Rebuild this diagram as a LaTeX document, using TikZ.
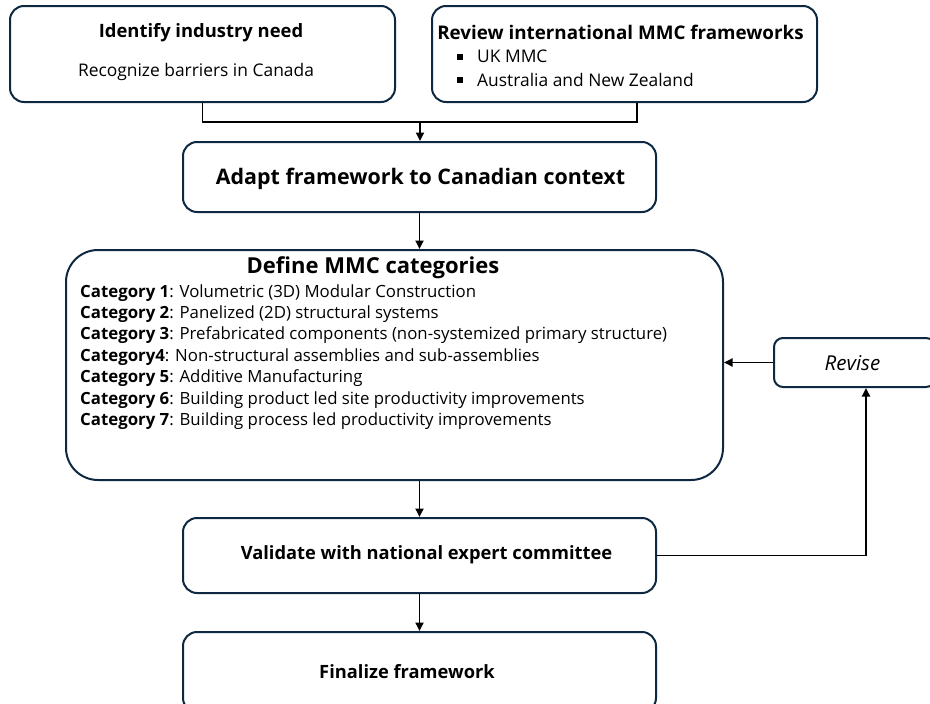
\documentclass[tikz,border=0pt]{standalone}
\usepackage{fontspec}
\setmainfont{Open Sans}
\usetikzlibrary{arrows.meta}
\definecolor{navy}{HTML}{0E2841}
\begin{document}
\begin{tikzpicture}[x=1pt,y=-1pt,
  box/.style={draw=navy,line width=2pt,rounded corners=14pt,fill=white,inner sep=0pt},
  flow/.style={line width=1.8pt,-{Triangle[length=8.5pt,width=8pt]}},
  link/.style={line width=1.8pt},
  bullet/.style={fill=black,inner sep=0pt,minimum size=5.5pt},
  cat/.style={anchor=west,inner sep=0pt,font=\fontsize{16.8}{20}\selectfont},
  head/.style={inner sep=0pt,font=\fontsize{18.4}{22}\selectfont\bfseries},
  body/.style={inner sep=0pt,font=\fontsize{17.4}{21}\selectfont}]
\useasboundingbox (0,0) rectangle (930,704);

% top row
\node[box,minimum width=385pt,minimum height=96pt] (need) at (202.5,54) {};
\node[head] (needT) at (201,33) {Identify industry need};
\node[body] (needB) at (196,72) {Recognize barriers in Canada};

\node[box,minimum width=385pt,minimum height=96pt] (rev) at (624.5,54) {};
\node[head,font=\fontsize{18.8}{22}\selectfont\bfseries] (revT) at (620.5,32) {Review international MMC frameworks};
\node[bullet] (b1) at (460,57) {};
\node[body,anchor=west] (uk) at (477,56) {UK MMC};
\node[bullet] (b2) at (460,80) {};
\node[body,anchor=west] (anz) at (477,80) {Australia and New Zealand};

% adapt
\node[box,minimum width=473pt,minimum height=70pt] (adapt) at (419.5,177) {};
\node[inner sep=0pt,font=\fontsize{21.4}{25}\selectfont\bfseries] (adaptT) at (420.5,179) {Adapt framework to Canadian context};

% categories
\node[box,rounded corners=32pt,minimum width=657pt,minimum height=230pt] (define) at (394.5,365) {};
\node[inner sep=0pt,font=\fontsize{22}{26}\selectfont\bfseries] (defT) at (373,268) {Define MMC categories};
\node[cat] (c1) at (80,293) {\textbf{Category 1}: Volumetric (3D) Modular Construction};
\node[cat] (c2) at (80,314) {\textbf{Category 2}: Panelized (2D) structural systems};
\node[cat] (c3) at (80,335.5) {\textbf{Category 3}: Prefabricated components (non-systemized primary structure)};
\node[cat] (c4) at (80,357) {\textbf{Category4}: Non-structural assemblies and sub-assemblies};
\node[cat] (c5) at (80,378.5) {\textbf{Category 5}: Additive Manufacturing};
\node[cat] (c6) at (80,400) {\textbf{Category 6}: Building product led site productivity improvements};
\node[cat] (c7) at (80,421.5) {\textbf{Category 7}: Building process led productivity improvements};

% revise
\node[box,rounded corners=9pt,minimum width=161pt,minimum height=49pt] (revise) at (854.5,362.5) {};
\node[inner sep=0pt,font=\fontsize{20.5}{24}\selectfont\itshape] (reviseT) at (852.5,363) {Revise};

% validate and finalize
\node[box,minimum width=473pt,minimum height=75pt] (valid) at (419.5,555.5) {};
\node[head,font=\fontsize{18.3}{22}\selectfont\bfseries] (validT) at (426.5,555) {Validate with national expert committee};
\node[box,minimum width=473pt,minimum height=80pt] (final) at (419.5,672) {};
\node[head,font=\fontsize{18.3}{22}\selectfont\bfseries] (finalT) at (407,672) {Finalize framework};

% connectors
\coordinate (join) at (420,122);
\draw[link] (need.south) |- (join) -| ([xshift=12.5pt]rev.south);
\draw[flow] (join) -- (adapt.north -| join);
\draw[flow] (adapt.south) -- (define.north -| adapt.south);
\draw[flow] (define.south -| valid.north) -- (valid.north);
\draw[flow] (valid.south) -- (final.north);
\draw[flow] (revise.west) -- (revise.west -| define.east);
\draw[flow] (valid.east) -| ([xshift=11.5pt]revise.south);
\end{tikzpicture}
\end{document}
